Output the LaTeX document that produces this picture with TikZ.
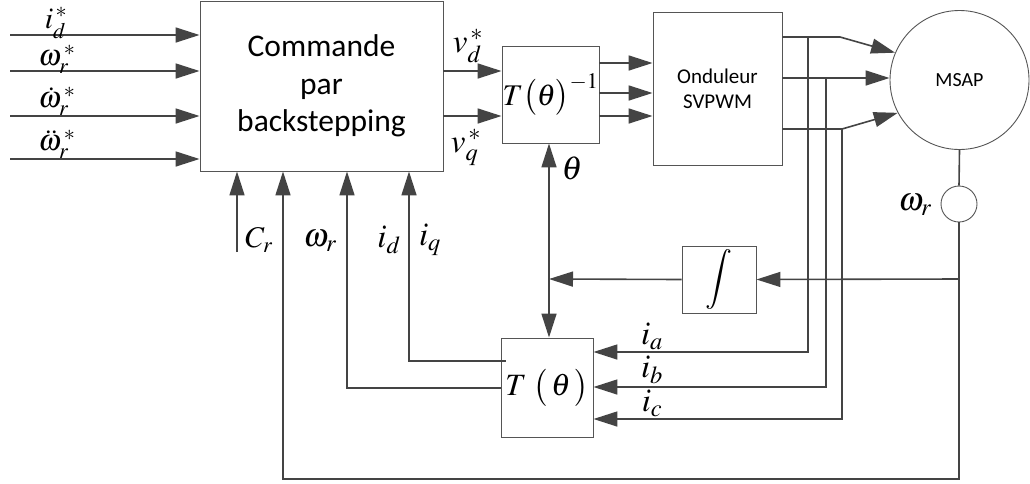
\documentclass[tikz,border=0pt]{standalone}
\usepackage{mathptmx}
\usepackage{fontspec}
\setmainfont{Liberation Serif}
\newfontfamily\calib{Carlito}
\usetikzlibrary{arrows.meta,calc}
\definecolor{lc}{RGB}{68,68,68}
\definecolor{bc}{RGB}{85,85,85}
\begin{document}
\begin{tikzpicture}[x=1pt,y=-1pt,
  ln/.style={draw=lc, line width=1.6pt},
  arr/.style={ln, -{Triangle[length=24pt,width=15pt]}},
  box/.style={draw=bc, line width=0.9pt, fill=white, inner sep=0pt},
  lab/.style={inner sep=0pt, font=\fontsize{33}{35}\selectfont},
  labs/.style={inner sep=0pt, font=\fontsize{30}{32}\selectfont}
]
\useasboundingbox (0,0) rectangle (1030,483);

% blocks
\node[box, minimum width=243pt, minimum height=170pt, font=\calib\fontsize{31.5}{37.5}\selectfont, align=center] (main) at (321.5,86) {Commande\\par\\backstepping};
\node[box, minimum width=97pt, minimum height=97pt, font=\fontsize{30}{30}\selectfont] (Tinv) at (550.5,94.5) {$T\bigl(\theta\bigr)^{-1}$};
\node[box, minimum width=129pt, minimum height=153pt, font=\calib\fontsize{21}{25}\selectfont, align=center] (ond) at (717.5,88.5) {Onduleur\\SVPWM};
\node[box, circle, minimum size=139pt, font=\calib\fontsize{20}{24}\selectfont] (msap) at (959.5,80) {MSAP};
\node[box, circle, minimum size=36pt] (sens) at (959,204) {};
\node[box, minimum width=74pt, minimum height=67pt, font=\fontsize{30}{30}\selectfont] (int) at (719,279.5) {$\displaystyle\int$};
\node[box, minimum width=92pt, minimum height=99pt, font=\fontsize{31}{31}\selectfont] (T) at (547,387.5) {$T\;\bigl(\,\theta\,\bigr)$};

% reference inputs
\coordinate (i1) at (10,35);
\coordinate (i2) at (10,71);
\coordinate (i3) at (10,116);
\coordinate (i4) at (10,159);
\foreach \c in {i1,i2,i3,i4} \draw[arr] (\c) -- (\c -| main.west);

% vd, vq
\coordinate (yvd) at (0,71);
\coordinate (yvq) at (0,116);
\draw[arr] (main.east |- yvd) -- (Tinv.west |- yvd);
\draw[arr] (main.east |- yvq) -- (Tinv.west |- yvq);

% Tinv -> onduleur
\foreach \y [count=\k] in {63,93,116} {
  \coordinate (yo\k) at (0,\y);
  \draw[arr] (Tinv.east |- yo\k) -- (ond.west |- yo\k);
}

% onduleur -> MSAP
\coordinate (ya) at (0,37);
\coordinate (yb) at (0,78);
\coordinate (yc) at (0,129);
\coordinate (ka) at (840,37);
\coordinate (kc) at (842,129);
\draw[arr] (ond.east |- ya) -- (ka) -- (msap.157);
\draw[arr] (ond.east |- yb) -- (msap.west |- yb);
\draw[arr] (ond.east |- yc) -- (kc) -- (msap.208);

% current taps
\coordinate (xa) at (808,0);
\coordinate (xb) at (826,0);
\coordinate (xc) at (842,0);
\coordinate (yia) at (0,352);
\coordinate (yib) at (0,387);
\coordinate (yic) at (0,419);
\draw[arr] (xa |- ya) -- (xa |- yia) -- (T.east |- yia);
\draw[arr] (xb |- yb) -- (xb |- yib) -- (T.east |- yib);
\draw[arr] (xc |- yc) -- (xc |- yic) -- (T.east |- yic);

% speed sensor
\coordinate (bot) at (959,479);
\coordinate (xw) at (283,0);
\draw[ln] (msap.south) -- (sens.north);
\draw[arr] (sens.south) -- (bot) -- (xw |- bot) -- (xw |- main.south);
\coordinate (yint) at (0,279);
\draw[arr] (sens.south |- yint) -- (int.east);

% theta
\coordinate (xt) at (549,0);
\draw[arr] (int.west) -- (xt |- yint);
\draw[arr] (xt |- yint) -- (xt |- Tinv.south);
\draw[arr] (xt |- yint) -- (xt |- T.north);

% feedback from T
\coordinate (yfd) at (0,361);
\coordinate (yfw) at (0,388);
\coordinate (xid) at (409,0);
\coordinate (xwr) at (347,0);
\draw[arr] ($(T.west |- yfd)+(5,0)$) -- (xid |- yfd) -- (xid |- main.south);
\draw[arr] (T.west |- yfw) -- (xwr |- yfw) -- (xwr |- main.south);

% Cr
\coordinate (cr) at (237,252);
\draw[arr] (cr) -- (cr |- main.south);

% labels
\node[labs] (lid) at (56,23) {$i_{d}^{\,*}$};
\node[labs] (lwr) at (57,59) {$\omega_{r}^{\,*}$};
\node[labs] (lwd) at (57,101) {$\dot\omega_{r}^{\,*}$};
\node[labs] (lwdd) at (57,144) {$\ddot\omega_{r}^{\,*}$};
\node[lab] (lvd) at (468,46) {$v_{d}^{\,*}$};
\node[lab] (lvq) at (466,147) {$v_{q}^{\,*}$};
\node[lab] (lth) at (572,168) {$\theta$};
\node[labs] (lcr) at (259,240) {$C_{r}$};
\node[lab] (lw1) at (320,241) {$\omega_{r}$};
\node[lab] (lidd) at (389,240) {$i_{d}$};
\node[lab] (liq) at (430,240) {$i_{q}$};
\node[lab] (lw2) at (915,205) {$\omega_{r}$};
\node[lab] (lia) at (652,336) {$i_{a}$};
\node[lab] (lib) at (652,370) {$i_{b}$};
\node[lab] (lic) at (652,403) {$i_{c}$};
\end{tikzpicture}
\end{document}
